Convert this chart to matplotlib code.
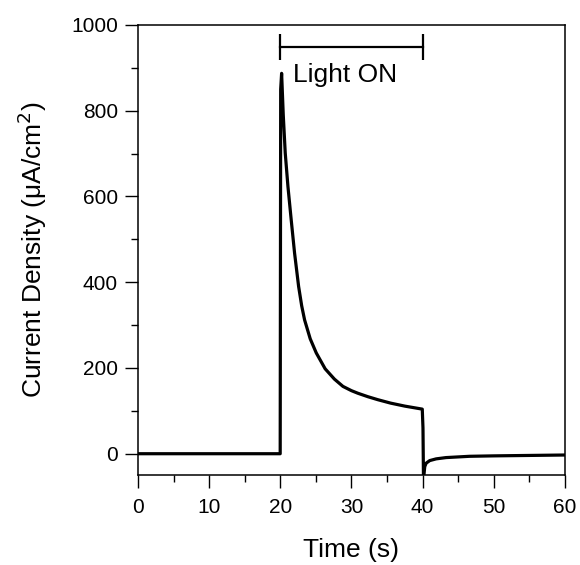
import numpy as np
import matplotlib
matplotlib.use('Agg')
import matplotlib.pyplot as plt

# photocurrent transient
time = [0, 19.98, 20.05, 20.18, 20.41, 20.69, 21.07, 21.53, 22.0, 22.57,
        23.0, 23.41, 24.2, 25.05, 26.3, 27.6, 28.8, 30.0, 30.9, 32.3, 33.7,
        35.5, 37.5, 39.95,
        40.05, 40.12, 40.3, 40.5, 41.0, 41.9, 43.3, 46.6, 50.0, 55.0, 60.0]
current = [0, 0, 850, 887, 790, 701, 623, 545, 468, 390,
           345, 312, 268, 235, 198, 174, 157, 147, 141, 133, 126,
           118, 111, 104,
           60, -60, -30, -22, -16, -12, -9, -6, -5, -4, -3]

light_on = [20, 40]
light_label = 'Light ON'

plt.rcParams['font.family'] = ['Liberation Sans', 'DejaVu Sans']

fig = plt.figure(figsize=(5.8, 5.65), dpi=100)
ax = fig.add_axes([0.238, 0.159, 0.736, 0.797])

ax.plot(time, current, color='black', linewidth=2.3, solid_joinstyle='round')

# bar marking the illuminated period
bar_y = 949
ax.plot(light_on, [bar_y, bar_y], color='black', linewidth=1.6)
ax.vlines(light_on, 917, 979, color='black', linewidth=1.6)
ax.text(21.8, 883, light_label, fontsize=19, va='center', ha='left')

ax.set_xlim(0, 60)
ax.set_ylim(-50, 1000)
ax.set_xticks(np.arange(0, 61, 10))
ax.set_xticks(np.arange(5, 60, 10), minor=True)
ax.set_yticks(np.arange(0, 1001, 200))
ax.set_yticks(np.arange(100, 1000, 200), minor=True)

ax.tick_params(which='both', direction='out', top=False, right=False,
               labelsize=15, width=1.0)
ax.tick_params(which='major', length=9.5, pad=5)
ax.tick_params(axis='x', which='major', pad=7)
ax.tick_params(which='minor', length=5)
for s in ax.spines.values():
    s.set_linewidth(1.1)

ax.set_xlabel('Time (s)', fontsize=19, labelpad=15)
ax.set_ylabel('Current Density (\u03bcA/cm$^2$)', fontsize=19, labelpad=16)

fig.savefig('out.png', dpi=100)
